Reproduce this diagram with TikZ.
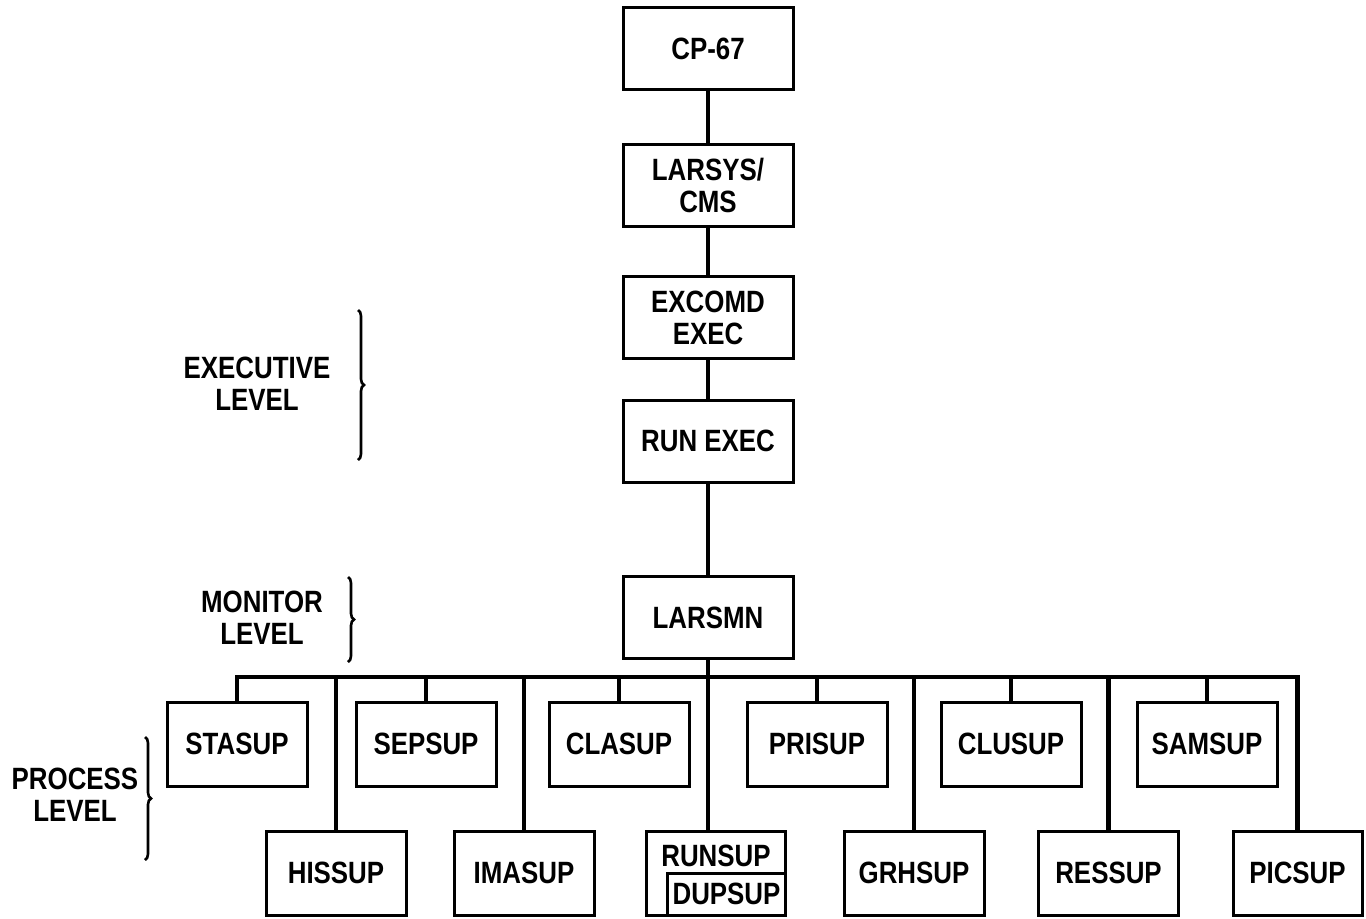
\documentclass[tikz,border=0pt]{standalone}
\usepackage{fontspec}
\setmainfont{Liberation Sans}[FakeStretch=0.84]
\usetikzlibrary{positioning,decorations.pathreplacing}
\newcommand{\ColX}{708}
\newcommand{\RowA}{744}
\newcommand{\RowB}{873}
\newcommand{\BusY}{677}

\begin{document}
\begin{tikzpicture}[x=0.5pt,y=-0.5pt, every node/.style={font=\fontsize{15.4}{16}\selectfont\bfseries, align=center},
  box/.style={draw, line width=1.5pt, minimum width=70pt, minimum height=42pt, inner sep=0pt},
  colbox/.style={box, minimum width=85pt, minimum height=41pt},
  wire/.style={line width=2.3pt},
  lvlbrace/.style={decorate, decoration={brace, amplitude=3pt}, line width=1.3pt}]
\useasboundingbox (0,0) rectangle (1366,918);
% ---- main column: operating system down to the monitor
\node[colbox] (cp)      at (\ColX,48.5)  {CP-67};
\node[colbox] (larsys)  at (\ColX,185)   {LARSYS/\\CMS};
\node[colbox] (excomd)  at (\ColX,317.5) {EXCOMD\\EXEC};
\node[colbox] (runexec) at (\ColX,441)   {RUN EXEC};
\node[colbox] (larsmn)  at (\ColX,617.5) {LARSMN};
\draw[wire] (cp) -- (larsys);
\draw[wire] (larsys) -- (excomd);
\draw[wire] (excomd) -- (runexec);
\draw[wire] (runexec) -- (larsmn);
% ---- process level: upper row of supervisors
\foreach \name/\txt/\x in {stasup/STASUP/237, sepsup/SEPSUP/426, clasup/CLASUP/619,
  prisup/PRISUP/817, clusup/CLUSUP/1011, samsup/SAMSUP/1207}
  { \node[box] (\name) at (\x,\RowA) {\txt}; }
% ---- process level: lower row of supervisors
\foreach \name/\txt/\x in {hissup/HISSUP/336, imasup/IMASUP/524, grhsup/GRHSUP/914, ressup/RESSUP/1108.5}
  { \node[box] (\name) at (\x,\RowB) {\txt}; }
\node[box, minimum width=64.5pt] (picsup) at (1297.5,\RowB) {PICSUP};
\node[box, minimum width=69.5pt] (runsup) at (716,\RowB) {};
\node[anchor=north, inner sep=0pt] (runlbl) at ([yshift=-7.5pt]runsup.north) {RUNSUP};
\node[box, anchor=south east, minimum width=59pt, minimum height=21pt] (dupsup) at (runsup.south east) {DUPSUP};
% ---- bus from the monitor to every supervisor
\coordinate (bus) at (0,\BusY);
\draw[wire] (larsmn.south) -- (larsmn.south |- runsup.north);
\draw[wire] (stasup.north) -- (stasup.north |- bus) -- (picsup.north |- bus) -- (picsup.north);
\foreach \name in {sepsup,clasup,prisup,clusup,samsup,hissup,imasup,grhsup,ressup}
  { \draw[wire] (\name.north) -- (\name.north |- bus); }
% ---- level labels with their braces
\node (exlvl)   at (257,384) {EXECUTIVE\\LEVEL};
\node (monlvl)  at (262,618) {MONITOR\\LEVEL};
\node (proclvl) at (75,795)  {PROCESS\\LEVEL};
\draw[lvlbrace] (358,310) -- (358,460);
\draw[lvlbrace] (348,577) -- (348,662);
\draw[lvlbrace] (145,737) -- (145,860);
\end{tikzpicture}
\end{document}
